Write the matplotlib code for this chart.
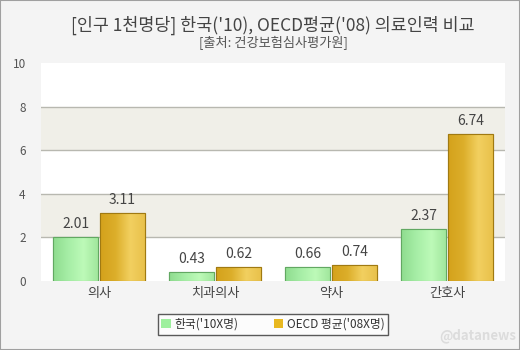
import numpy as np
import matplotlib
matplotlib.use('Agg')
import matplotlib.pyplot as plt
from matplotlib.colors import LinearSegmentedColormap
from matplotlib.patches import Patch, Rectangle

plt.rcParams['font.family'] = ['Noto Sans CJK KR', 'DejaVu Sans']

# data
categories = ['의사', '치과의사', '약사', '간호사']
korea = [2.01, 0.43, 0.66, 2.37]
oecd = [3.11, 0.62, 0.74, 6.74]
series_names = ["한국('10X명)", "OECD 평균('08X명)"]
title = "[인구 1천명당] 한국('10), OECD평균('08) 의료인력 비교"
subtitle = "[출처: 건강보험심사평가원]"

fig = plt.figure(figsize=(5.2, 3.5), dpi=100)
fig.patch.set_facecolor('#f4f4f4')
fig.patches.append(Rectangle((0, 0), 1, 1, transform=fig.transFigure,
                             fill=False, edgecolor='#a0a0a0', linewidth=1.5))

ax = fig.add_axes([41 / 520, 1 - 281 / 350, 464 / 520, 218 / 350])
ax.set_facecolor('white')
for s in ax.spines.values():
    s.set_visible(False)

# bands and grid
for lo, hi in [(2, 4), (6, 8)]:
    ax.axhspan(lo, hi, color='#f0efe8', zorder=0, linewidth=0)
for y in [2, 4, 6, 8]:
    ax.axhline(y, color='#b8b8b0', linewidth=1, zorder=1)

x = np.arange(len(categories))
w = 0.395
green_cmap = LinearSegmentedColormap.from_list('g', ['#8fdc8f', '#a6eea6', '#bdfab8', '#a0e69c'])
gold_cmap = LinearSegmentedColormap.from_list('o', ['#d4a21c', '#dcae2a', '#f2d060', '#e8c04a'])

bars1 = ax.bar(x - w / 2 - 0.005, korea, w, color='#a6eea6', edgecolor='#62a862',
               linewidth=0.8, zorder=2)
bars2 = ax.bar(x + w / 2 + 0.005, oecd, w, color='#e2b83a', edgecolor='#a07a12',
               linewidth=0.8, zorder=2)

grad = np.linspace(0, 1, 64).reshape(1, -1)
for bars, cmap in [(bars1, green_cmap), (bars2, gold_cmap)]:
    for b in bars:
        x0 = b.get_x()
        im = ax.imshow(grad, extent=[x0, x0 + b.get_width(), 0, b.get_height()],
                       aspect='auto', cmap=cmap, zorder=2.5, interpolation='bicubic')
        im.set_clip_path(b)
        edge = Rectangle((x0, 0), b.get_width(), b.get_height(), fill=False,
                         edgecolor=b.get_edgecolor(), linewidth=0.8, zorder=3)
        ax.add_patch(edge)

for bars, vals in [(bars1, korea), (bars2, oecd)]:
    for b, v in zip(bars, vals):
        ax.text(b.get_x() + b.get_width() / 2, v + 0.28, f'{v:.2f}',
                ha='center', va='bottom', fontsize=10, color='#444444', zorder=4)

ax.set_xlim(-0.5, len(categories) - 0.5)
ax.set_ylim(0, 10)
ax.set_yticks([0, 2, 4, 6, 8, 10])
ax.set_xticks(x)
ax.set_xticklabels(categories, fontsize=9.5, color='#444444')
ax.tick_params(axis='y', length=0, pad=11, labelsize=8.5, labelcolor='#555555')
ax.tick_params(axis='x', length=0, pad=4)

fig.text(273 / 520, 1 - 25 / 350, title, ha='center', va='center',
         fontsize=12.5, color='#444444', fontweight='medium')
fig.text(273 / 520, 1 - 43 / 350, subtitle, ha='center', va='center',
         fontsize=9.5, color='#555555')

handles = [Patch(facecolor='#9ef09e', edgecolor='none'),
           Patch(facecolor='#e8b820', edgecolor='none')]
leg = fig.legend(handles, series_names, loc='center', bbox_to_anchor=(273 / 520, 1 - 324.5 / 350),
                 ncol=2, fontsize=8.5, frameon=True, fancybox=False, handlelength=0.8,
                 handleheight=0.8, handletextpad=0.3, columnspacing=3.0, borderpad=0.3,
                 labelcolor='#333333')
leg.get_frame().set_edgecolor('#333333')
leg.get_frame().set_linewidth(1)

fig.text(478 / 520, 1 - 336 / 350, '@datanews', ha='center', va='center',
         fontsize=9.5, color='#dcdcdc', fontweight='bold')

fig.savefig('out.png', dpi=100, facecolor=fig.get_facecolor())
